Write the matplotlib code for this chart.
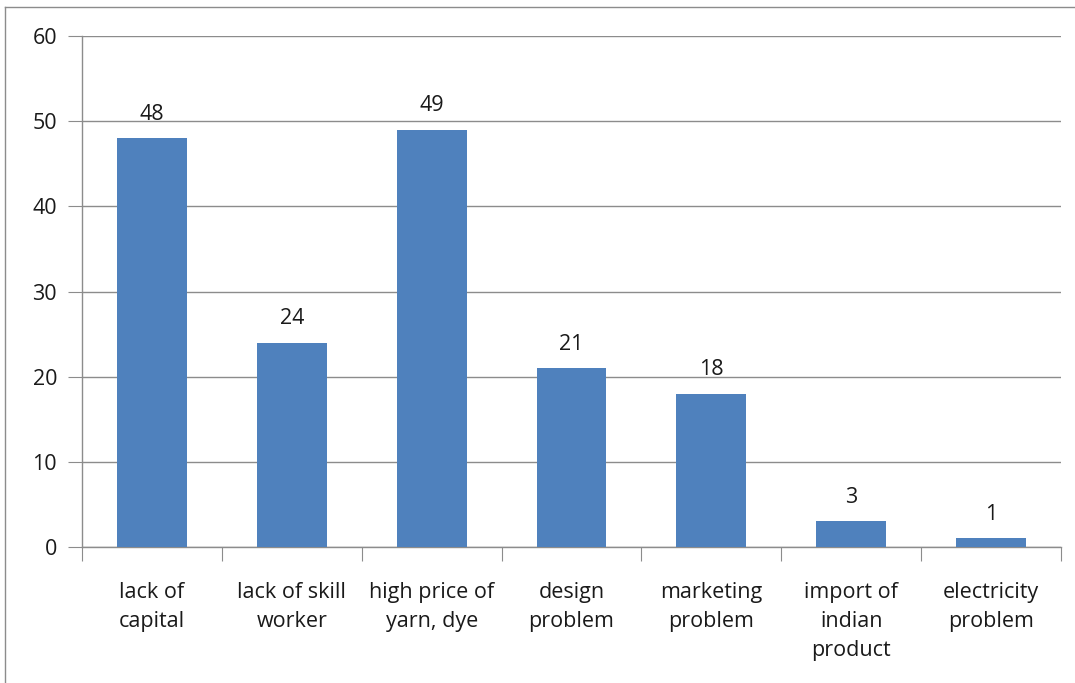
import matplotlib
matplotlib.use("Agg")
import matplotlib.pyplot as plt
from matplotlib.lines import Line2D
import numpy as np

categories = ["lack of\ncapital", "lack of skill\nworker", "high price of\nyarn, dye",
              "design\nproblem", "marketing\nproblem", "import of\nindian\nproduct",
              "electricity\nproblem"]
values = [48, 24, 49, 21, 18, 3, 1]
yticks = [0, 10, 20, 30, 40, 50, 60]

plt.rcParams['font.family'] = ['Open Sans', 'DejaVu Sans']
FS = 15.5
TC = "#1a1a1a"
fig = plt.figure(figsize=(10.75, 6.83), dpi=100)
ax = fig.add_axes([82/1075, 1-547/683, (1061-82)/1075, (547-36)/683])

x = np.arange(len(values))
bars = ax.bar(x, values, width=0.5, color="#4F81BD", zorder=3)
for xi, v in zip(x, values):
    ax.text(xi, v + 1.6, str(v), ha="center", va="bottom", fontsize=FS, color=TC)

ax.set_xlim(-0.5, len(values) - 0.5)
ax.set_ylim(0, 60)
ax.set_yticks(yticks)
ax.set_yticklabels([str(t) for t in yticks], fontsize=FS, color=TC)
ax.yaxis.grid(True, color="#8c8c8c", linewidth=1.0, zorder=0)
ax.tick_params(axis="y", length=10, color="#8c8c8c", pad=8)

ax.set_xticks(np.arange(len(values) + 1) - 0.5, minor=False)
ax.set_xticklabels([])
ax.tick_params(axis="x", which="major", length=10, color="#8c8c8c", direction="out")
ax.set_xticks(x, minor=True)
ax.set_xticklabels(categories, minor=True, fontsize=FS, color=TC, linespacing=1.5)
ax.tick_params(axis="x", which="minor", length=0, pad=25)

for s in ["top", "right"]:
    ax.spines[s].set_visible(False)
for s in ["left", "bottom"]:
    ax.spines[s].set_color("#8c8c8c")
    ax.spines[s].set_linewidth(1.0)

# outer chart-area border (left and top visible)
fig.add_artist(Line2D([5/1075, 5/1075], [0, 1-7/683], transform=fig.transFigure, color="#8c8c8c", lw=1.0))
fig.add_artist(Line2D([5/1075, 1], [1-7/683, 1-7/683], transform=fig.transFigure, color="#8c8c8c", lw=1.0))

fig.savefig("out.png", dpi=100)
